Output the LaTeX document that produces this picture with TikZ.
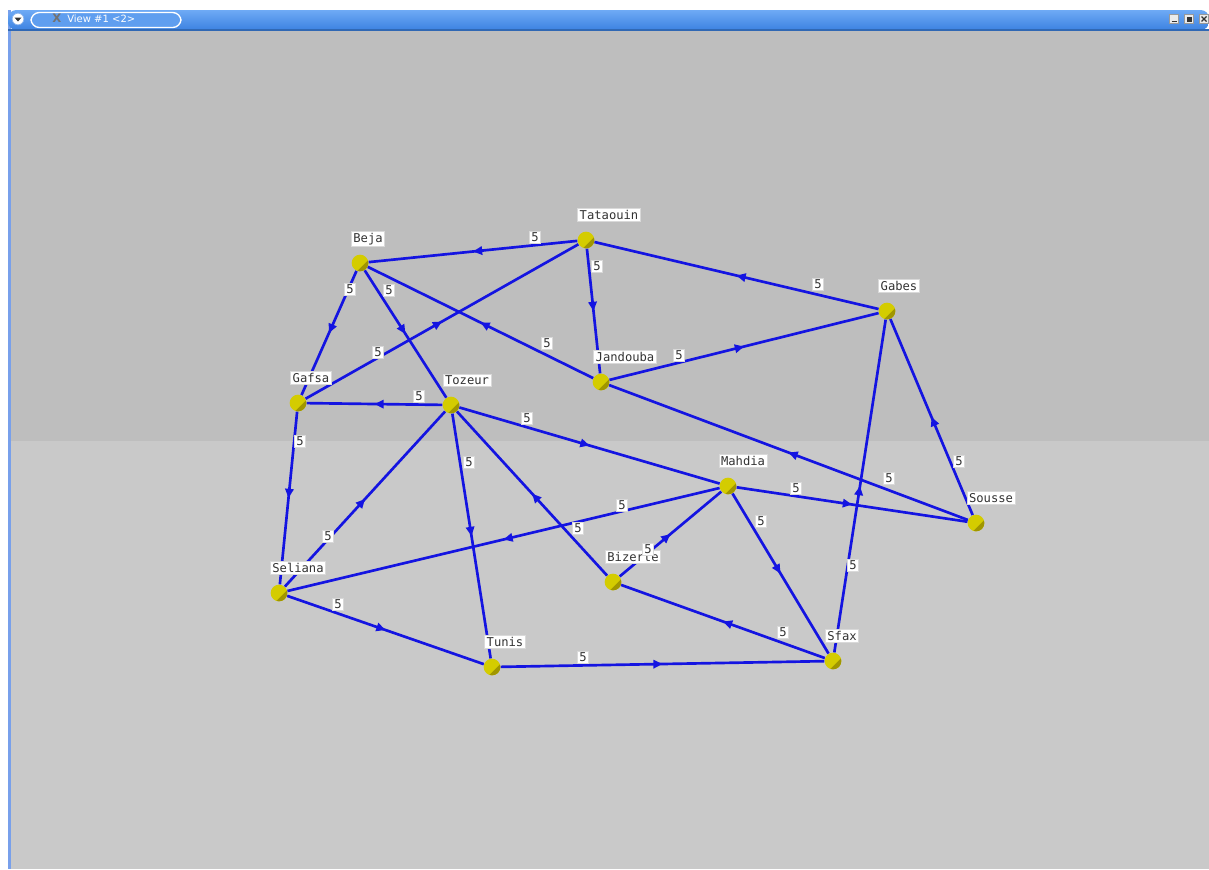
\documentclass[tikz,border=0pt]{standalone}
\usepackage{fontspec}
\newfontfamily\labfont{DejaVu Sans Mono}
\newfontfamily\titlefont{DejaVu Sans}
\usetikzlibrary{decorations.markings,arrows.meta}
\definecolor{bgtop}{RGB}{190,190,190}
\definecolor{bgbot}{RGB}{201,201,201}
\definecolor{edgeblue}{RGB}{20,20,225}
\definecolor{cityyel}{RGB}{212,204,0}
\definecolor{citydark}{RGB}{160,150,0}
\definecolor{barlight}{RGB}{110,170,245}
\definecolor{bardark}{RGB}{60,130,225}
\definecolor{sideblue}{RGB}{120,160,235}
\pgfdeclarelayer{bgl}
\pgfdeclarelayer{edgel}
\pgfsetlayers{bgl,edgel,main}
\begin{document}
\begin{tikzpicture}[x=0.6pt,y=-0.6pt,
  city/.style={circle, inner sep=0pt, minimum size=10pt, fill=cityyel,
    path picture={\fill[citydark] ([xshift=1.6pt,yshift=-1.6pt]path picture bounding box.north east) -- ([xshift=1.6pt,yshift=-1.6pt]path picture bounding box.south west) -- ([xshift=4pt,yshift=-4pt]path picture bounding box.south east) -- cycle;}},
  namelab/.style={fill=white, draw=black!15, line width=0.3pt, inner xsep=1.2pt, inner ysep=1pt,
    font=\labfont\fontsize{7.3}{8}\selectfont, text=black!80},
  wlab/.style={namelab, inner xsep=1pt},
  road/.style={draw=edgeblue, line width=1.6pt,
    postaction={decorate},
    decoration={markings, mark=at position 0.5 with {\arrow{Triangle[length=5.5pt,width=5pt]}}}}
]
\useasboundingbox (0,0) rectangle (1209,869);
\begin{pgfonlayer}{bgl}
  \fill[white] (0,0) rectangle (1209,869);
  \fill[bgtop] (8,30) rectangle (1209,441);
  \fill[bgbot] (8,441) rectangle (1209,869);
  \fill[sideblue] (8,10) rectangle (10.5,869);
  \shade[top color=barlight, bottom color=bardark, rounded corners=5pt] (8,30) -- (8,10) -- (1209,10) -- (1209,30) -- cycle;
  \fill[bardark!80!black] (8,29) rectangle (1209,30.5);
\end{pgfonlayer}
% title bar widgets
\node[circle, fill=white, draw=bardark!60, inner sep=0pt, minimum size=7pt] (menubtn) at (18,19) {};
\fill[black!80] (14.5,17.5) -- (21.5,17.5) -- (18,21.5) -- cycle;
\node[draw=white, line width=0.8pt, rounded corners=5pt, fill=barlight!70!bardark, minimum width=90pt, minimum height=9pt, inner sep=0pt] (pill) at (106,20) {};
\node[anchor=west, inner sep=0pt, font=\titlefont\bfseries\fontsize{7}{8}\selectfont, text=black!55] (xlogo) at (52,18) {X};
\node[anchor=west, inner sep=0pt, font=\titlefont\fontsize{6}{7}\selectfont, text=white] (ttl) at (67,19) {View \#1 <2>};
\node[draw=black!40, fill=black!8, minimum size=5.5pt, inner sep=0pt] (bmin) at (1174,19) {};
\node[draw=black!40, fill=black!8, minimum size=5.5pt, inner sep=0pt] (bmax) at (1189,19) {};
\node[draw=black!40, fill=black!8, minimum size=5.5pt, inner sep=0pt] (bclose) at (1204,19) {};
\draw[black!80, line width=0.8pt] (1171.5,21.5) -- (1176.5,21.5);
\fill[black!80] (1186.5,16.5) rectangle (1191.5,21.5);
\draw[black!80, line width=0.8pt] (1201.5,16.5) -- (1206.5,21.5) (1201.5,21.5) -- (1206.5,16.5);

% cities
\node[city] (Tataouin) at (586,240) {};
\node[city] (Beja) at (360,263) {};
\node[city] (Gabes) at (887,311) {};
\node[city] (Jandouba) at (601,382) {};
\node[city] (Gafsa) at (298,403) {};
\node[city] (Tozeur) at (451,405) {};
\node[city] (Mahdia) at (728,486) {};
\node[city] (Sousse) at (976,523) {};
\node[city] (Seliana) at (279,593) {};
\node[city] (Bizerte) at (613,582) {};
\node[city] (Tunis) at (492,667) {};
\node[city] (Sfax) at (833,661) {};

% edges
\begin{pgfonlayer}{edgel}
\draw[road] (Tataouin) -- (Beja);
\draw[road] (Gabes) -- (Tataouin);
\draw[road] (Tataouin) -- (Jandouba);
\draw[road] (Gafsa) -- (Tataouin);
\draw[road] (Beja) -- (Gafsa);
\draw[road] (Beja) -- (Tozeur);
\draw[road] (Jandouba) -- (Beja);
\draw[road] (Jandouba) -- (Gabes);
\draw[road] (Sousse) -- (Jandouba);
\draw[road] (Tozeur) -- (Gafsa);
\draw[road] (Gafsa) -- (Seliana);
\draw[road] (Seliana) -- (Tozeur);
\draw[road] (Tozeur) -- (Tunis);
\draw[road] (Bizerte) -- (Tozeur);
\draw[road] (Tozeur) -- (Mahdia);
\draw[road] (Mahdia) -- (Seliana);
\draw[road] (Bizerte) -- (Mahdia);
\draw[road] (Mahdia) -- (Sousse);
\draw[road] (Mahdia) -- (Sfax);
\draw[road] (Sfax) -- (Bizerte);
\draw[road] (Sousse) -- (Gabes);
\draw[road] (Sfax) -- (Gabes);
\draw[road] (Seliana) -- (Tunis);
\draw[road] (Tunis) -- (Sfax);
\end{pgfonlayer}

% city names
\node[namelab] (lTataouin) at (609,215) {Tataouin};
\node[namelab] (lBeja) at (368,239) {Beja};
\node[namelab] (lGabes) at (899,286) {Gabes};
\node[namelab] (lJandouba) at (625,357) {Jandouba};
\node[namelab] (lGafsa) at (311,378) {Gafsa};
\node[namelab] (lTozeur) at (467,380) {Tozeur};
\node[namelab] (lMahdia) at (743,461) {Mahdia};
\node[namelab] (lSousse) at (991,498) {Sousse};
\node[namelab] (lSeliana) at (298,568) {Seliana};
\node[namelab] (lBizerte) at (633,557) {Bizerte};
\node[namelab] (lTunis) at (505,642) {Tunis};
\node[namelab] (lSfax) at (842,636) {Sfax};

% weights
\node[wlab] (w1) at (535,237) {5};
\node[wlab] (w2) at (818,284) {5};
\node[wlab] (w3) at (597,266) {5};
\node[wlab] (w4) at (378,352) {5};
\node[wlab] (w5) at (350,289) {5};
\node[wlab] (w6) at (389,290) {5};
\node[wlab] (w7) at (547,343) {5};
\node[wlab] (w8) at (679,355) {5};
\node[wlab] (w9) at (889,478) {5};
\node[wlab] (w10) at (419,396) {5};
\node[wlab] (w11) at (300,441) {5};
\node[wlab] (w12) at (328,536) {5};
\node[wlab] (w13) at (469,462) {5};
\node[wlab] (w14) at (578,528) {5};
\node[wlab] (w15) at (527,418) {5};
\node[wlab] (w16) at (622,505) {5};
\node[wlab] (w17) at (648,549) {5};
\node[wlab] (w18) at (796,488) {5};
\node[wlab] (w19) at (761,521) {5};
\node[wlab] (w20) at (783,632) {5};
\node[wlab] (w21) at (959,461) {5};
\node[wlab] (w22) at (853,565) {5};
\node[wlab] (w23) at (338,604) {5};
\node[wlab] (w24) at (583,657) {5};
\end{tikzpicture}
\end{document}
